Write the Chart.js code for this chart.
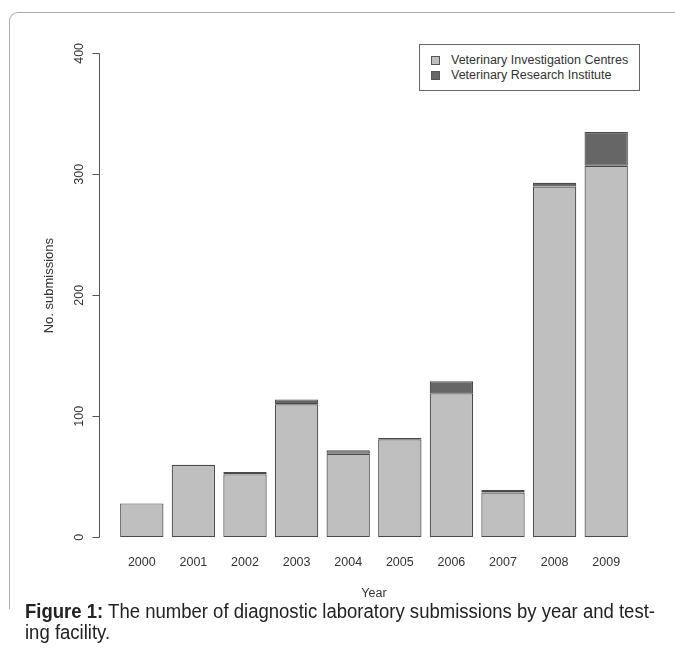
<!DOCTYPE html>
<html>
<head>
<meta charset="utf-8">
<script src="https://cdn.jsdelivr.net/npm/chart.js@4/dist/chart.umd.min.js"></script>
<style>
    body { margin: 0; background: #fff; }
    #frame {
        position: absolute; left: 9px; top: 12px; width: 700px; height: 596px;
        border-left: 1px solid #aaa; border-top: 1px solid #aaa; border-top-left-radius: 9px;
    }
    #plot { position: absolute; left: 0; top: 0; width: 675px; height: 610px; }
    #legend {
        position: absolute; left: 419px; top: 44px; width: 221px; height: 47px; box-sizing: border-box;
        border: 1px solid #666; background: #fff;
        font-family: 'Liberation Sans', Arial, sans-serif; font-size: 12.5px; color: #333;
    }
    .item { position: absolute; left: 11px; height: 15px; line-height: 15px; white-space: nowrap; }
    .item span.sw {
        display: inline-block; width: 9px; height: 9px; box-sizing: border-box;
        border: 1px solid #555; vertical-align: -1px; margin-right: 11px;
    }
    #caption {
        position: absolute; left: 25px; top: 601px; width: 700px;
        font-family: 'Liberation Sans', Arial, sans-serif;
        font-size: 20px; line-height: 21px; color: #222; background: #fff;
        transform-origin: 0 0;
    }
    #caption div { white-space: nowrap; display: inline-block; }
</style>
</head>
<body>
<div id="frame"></div>
<div id="plot"><canvas id="submissions"></canvas></div>
<div id="legend"></div>
<div id="caption"><div id="capline"><b>Figure 1:</b> The number of diagnostic laboratory submissions by year and test-</div><br><div>ing facility.</div></div>

<script>
const years = ['2000', '2001', '2002', '2003', '2004', '2005', '2006', '2007', '2008', '2009']
const investigationCentres = [28, 60, 52, 110, 69, 81, 119, 37, 290, 307]
const researchInstitute = [0, 0, 2, 4, 3, 1, 10, 2, 3, 28]
const yTicks = [0, 100, 200, 300, 400]

const seriesNames = ['Veterinary Investigation Centres', 'Veterinary Research Institute']
const seriesColors = ['#bfbfbf', '#666666']

Chart.defaults.font.family = "'Liberation Sans', Arial, sans-serif"
Chart.defaults.font.size = 12.5
Chart.defaults.color = '#333'

// R style y axis: line only from 0 to 400, set off from the bars
const detachedAxis = {
    id: 'detachedAxis',
    afterDraw(chart) {
        const y = chart.scales.y
        const ctx = chart.ctx
        const x = chart.chartArea.left - 16.5
        ctx.save()
        ctx.strokeStyle = '#555'
        ctx.lineWidth = 1
        ctx.beginPath()
        ctx.moveTo(x, Math.round(y.getPixelForValue(yTicks[0])) + 0.5)
        ctx.lineTo(x, Math.round(y.getPixelForValue(yTicks[yTicks.length - 1])) + 0.5)
        yTicks.forEach(v => {
            const py = Math.round(y.getPixelForValue(v)) + 0.5
            ctx.moveTo(x, py)
            ctx.lineTo(x - 7, py)
        })
        ctx.stroke()
        ctx.restore()
    }
}

const ctx = document.getElementById('submissions').getContext('2d')
const chart = new Chart(ctx, {
    type: 'bar',
    data: {
        labels: years,
        datasets: [{
            label: seriesNames[0],
            data: investigationCentres,
            backgroundColor: seriesColors[0],
            borderColor: '#4a4a4a',
            borderSkipped: false,
            borderWidth: c => c.raw ? 1.2 : 0
        }, {
            label: seriesNames[1],
            data: researchInstitute,
            backgroundColor: seriesColors[1],
            borderColor: '#4a4a4a',
            borderSkipped: false,
            borderWidth: c => c.raw ? 1.2 : 0
        }]
    },
    options: {
        responsive: true,
        maintainAspectRatio: false,
        animation: false,
        layout: { padding: { top: 15, right: 43, left: 0, bottom: 0 } },
        categoryPercentage: 1,
        barPercentage: 0.84,
        plugins: { legend: { display: false }, tooltip: { enabled: false } },
        scales: {
            x: {
                stacked: true,
                grid: { display: false, drawTicks: false },
                border: { display: false },
                ticks: { padding: 18, maxRotation: 0 },
                title: { display: true, text: 'Year', padding: { top: 0, bottom: 9 } },
                afterFit: s => { s.height = 72.7 }
            },
            y: {
                stacked: true,
                min: 0,
                max: 416,
                grid: { display: false, drawTicks: false },
                border: { display: false },
                ticks: {
                    stepSize: 100, includeBounds: false,
                    minRotation: 90, maxRotation: 90,
                    crossAlign: 'center', padding: 26.5
                },
                title: { display: true, text: 'No. submissions', font: { size: 13 }, padding: { top: 41.5, bottom: 0 } },
                afterFit: s => { s.width = 116 }
            }
        }
    },
    plugins: [detachedAxis]
})

const legend = document.getElementById('legend')
seriesNames.forEach((name, i) => {
    const row = document.createElement('div')
    row.className = 'item'
    row.style.top = (8 + i * 15) + 'px'
    row.innerHTML = '<span class="sw" style="background:' + seriesColors[i] + '"></span>' + name
    legend.appendChild(row)
})

// the caption font in the figure is condensed, squeeze the first line to its width
const caption = document.getElementById('caption')
const lineWidth = document.getElementById('capline').getBoundingClientRect().width
caption.style.transform = 'scaleX(' + (630 / lineWidth) + ')'
</script>
</body>
</html>
